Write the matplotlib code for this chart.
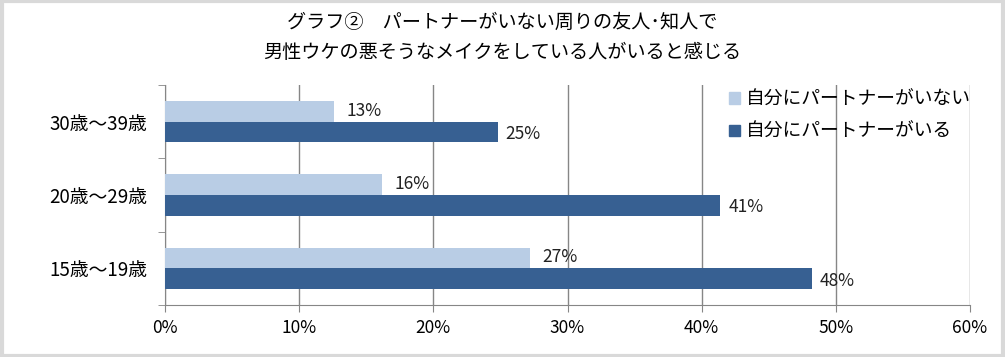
import matplotlib.pyplot as plt
from matplotlib.patches import Patch, Rectangle
import numpy as np

plt.rcParams['font.family'] = ['Noto Sans CJK JP', 'DejaVu Sans']

categories = ['15歳～19歳', '20歳～29歳', '30歳～39歳']
no_partner = [27.2, 16.2, 12.6]
has_partner = [48.2, 41.4, 24.8]
series_names = ['自分にパートナーがいない', '自分にパートナーがいる']
xticks = [0, 10, 20, 30, 40, 50, 60]
title_lines = ['グラフ②　パートナーがいない周りの友人･知人で',
               '男性ウケの悪そうなメイクをしている人がいると感じる']

c_light = '#b9cde5'
c_dark = '#376092'
c_axis = '#868686'

fig = plt.figure(figsize=(10.05, 3.57), dpi=100)
ax = fig.add_axes([165/1005, 1 - 305/357, 805/1005, 220/357])

y = np.arange(len(categories))
h = 0.28
ax.barh(y + h/2, no_partner, height=h, color=c_light, zorder=3)
ax.barh(y - h/2, has_partner, height=h, color=c_dark, zorder=3)

for yi, v in zip(y, no_partner):
    ax.text(v + 0.9, yi + h/2 + 0.01, f'{round(v)}%', va='center', ha='left',
            fontsize=12.5, color='#222222', zorder=4)
for yi, v in zip(y, has_partner):
    ax.text(v + 0.6, yi - h/2 - 0.03, f'{round(v)}%', va='center', ha='left',
            fontsize=12.5, color='#222222', zorder=4)

ax.set_xlim(0, 60)
ax.set_ylim(-0.5, 2.5)
ax.set_xticks(xticks)
ax.set_xticklabels([f'{t}%' for t in xticks], fontsize=12.5)
ax.set_yticks(y)
ax.set_yticklabels(categories, fontsize=13.5)
ax.set_yticks([-0.5, 0.5, 1.5, 2.5], minor=True)
ax.tick_params(axis='y', which='major', length=0, pad=13)
ax.tick_params(axis='y', which='minor', length=5, color=c_axis, direction='out')
ax.tick_params(axis='x', length=5, color=c_axis, direction='out', pad=5)
ax.grid(axis='x', color=c_axis, linewidth=1, zorder=0)
for s in ['top', 'right']:
    ax.spines[s].set_visible(False)
for s in ['left', 'bottom']:
    ax.spines[s].set_color(c_axis)

handles = [Patch(color=c_light), Patch(color=c_dark)]
ax.legend(handles, series_names, loc='upper left', bbox_to_anchor=(0.68, 1.06),
          frameon=False, fontsize=13.5, handlelength=0.55, handleheight=0.55,
          handletextpad=0.35, labelspacing=0.6)

fig.text(0.5, 1 - 22/357, title_lines[0], ha='center', va='center', fontsize=13.8)
fig.text(0.5, 1 - 53/357, title_lines[1], ha='center', va='center', fontsize=13.8)

fig.patches.append(Rectangle((0.0015, 0.003), 0.997, 0.994, transform=fig.transFigure,
                             fill=False, edgecolor='#d9d9d9', linewidth=3))

fig.savefig('out.png', dpi=100, facecolor='white')
